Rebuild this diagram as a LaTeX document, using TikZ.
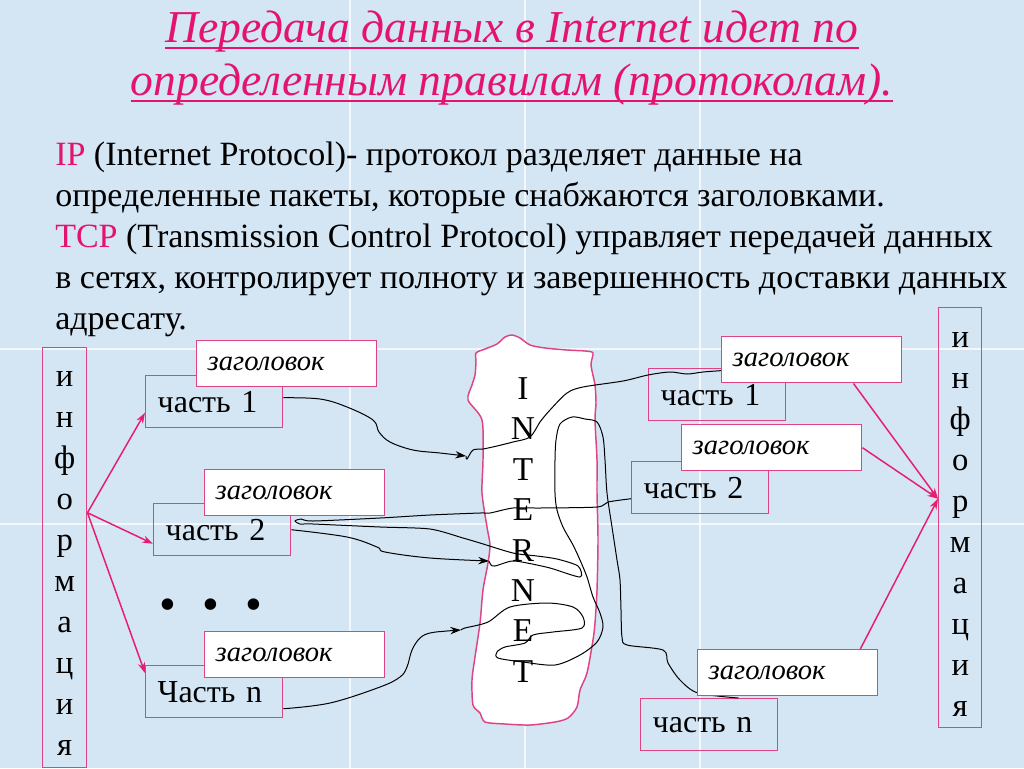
\documentclass[tikz,border=0pt]{standalone}
\usepackage{fontspec}
\setmainfont{Liberation Serif}
\usetikzlibrary{arrows.meta,calc}
\definecolor{bg}{RGB}{212,229,244}
\definecolor{pk}{RGB}{228,18,112}
\definecolor{bx}{RGB}{222,68,132}
\definecolor{ar}{RGB}{230,30,112}
\pgfdeclarelayer{back}
\pgfdeclarelayer{front}
\pgfsetlayers{back,main,front}
\begin{document}
\begin{tikzpicture}[x=0.75pt,y=-0.75pt,
  seam/.style={white,line width=0.8pt,opacity=0.75},
  titletext/.style={text=pk,inner sep=0pt,font=\fontsize{34.2}{40}\selectfont\itshape},
  body/.style={inner sep=0pt,anchor=base west,font=\fontsize{25.5}{30}\selectfont},
  part/.style={draw=bx,line width=1.1pt,minimum height=39pt,text width=84.75pt,
    inner xsep=9pt,inner ysep=0pt,align=left,anchor=north west,
    font=\fontsize{24}{28}\selectfont},
  hdr/.style={draw=bx,fill=white,line width=1.1pt,minimum height=34.5pt,text width=118.5pt,
    inner xsep=8.25pt,inner ysep=0pt,align=left,anchor=north west,
    font=\fontsize{21.4}{25}\selectfont\itshape},
  infobox/.style={draw=bx,line width=1.1pt,minimum height=315pt,inner sep=0pt,anchor=north west},
  infotext/.style={inner sep=0pt,align=center,font=\fontsize{24.5}{30.75}\selectfont},
  pkarrow/.style={draw=ar,line width=1.1pt,-{Stealth[length=8pt,width=5.5pt]}},
  blk/.style={draw=black,line width=0.75pt},
  blkarrow/.style={blk,-{Stealth[length=8pt,width=5.5pt]}}
]
\useasboundingbox (0,0) rectangle (1024,768);
\begin{pgfonlayer}{back}
\fill[bg] (0,0) rectangle (1024,768);
\foreach \sx in {350,525,700} \draw[seam] (\sx,0) -- (\sx,768);
\foreach \sy in {349,524} \draw[seam] (0,\sy) -- (1024,\sy);
% INTERNET cloud
\draw[draw=bx,fill=white,line width=1.1pt] plot[smooth cycle,tension=0.45] coordinates {
 (476,353) (485,349) (497,344) (505,337) (512,335) (520,338) (530,345) (545,348) (567,350)
 (585,351) (593,353) (591,365) (595,385) (596,403) (595,420) (597,460) (597,493) (598,540)
 (597,590) (595,623) (593,640) (587,673) (580,690) (577,707) (568,718) (555,722) (530,725)
 (505,724) (485,722) (480,713) (473,705) (472,680) (475,657) (480,623) (483,590) (488,563)
 (490,545) (487,527) (482,493) (483,460) (482,420) (468,400) (472,385) (475,375) (476,362)};
\end{pgfonlayer}

% title
\node[titletext,anchor=base] (t1) at (512,42) {Передача данных в Internet идет по};
\node[titletext,anchor=base] (t2) at (512,95) {определенным правилам (протоколам).};
\draw[pk,line width=1.5pt] ([yshift=-4.5pt]t1.base west) -- ([yshift=-4.5pt]t1.base east);
\draw[pk,line width=1.5pt] ([yshift=-4.5pt]t2.base west) -- ([yshift=-4.5pt]t2.base east);

% body text
\node[body] (b1) at (55,165) {\textcolor{pk}{IP} (Internet Protocol)- протокол разделяет данные на};
\node[body] (b2) at (55,206) {определенные пакеты, которые снабжаются заголовками.};
\node[body] (b3) at (55,247) {\textcolor{pk}{TCP} (Transmission Control Protocol) управляет передачей данных};
\node[body] (b4) at (55,288) {в сетях, контролирует полноту и завершенность доставки данных};
\node[body] (b5) at (55,329) {адресату.};

% INTERNET letters
\node[align=center,inner sep=0pt,font=\fontsize{25}{30.3}\selectfont] (inet) at (523,530)
  {I\\N\\T\\E\\R\\N\\E\\T};

% information columns
\node[infobox,minimum width=33pt] (infoL) at (42,347) {};
\node[infotext] (infoLt) at ([yshift=-4.5pt]infoL.center) {и\\н\\ф\\о\\р\\м\\а\\ц\\и\\я};
\node[infobox,minimum width=32.25pt] (infoR) at (938,307) {};
\node[infotext] (infoRt) at ([yshift=-5.25pt]infoR.center) {и\\н\\ф\\о\\р\\м\\а\\ц\\и\\я};

% parts
\node[part] (Lp1) at (145,375) {часть 1};
\node[part] (Lp2) at (153,503) {часть 2};
\node[part] (Lpn) at (145,665) {Часть n};
\node[part] (Rp1) at (648,368) {часть 1};
\node[part] (Rp2) at (631,461) {часть 2};
\node[part] (Rpn) at (640,698) {часть n};

% headers
\begin{pgfonlayer}{front}
\node[hdr] (Lh1) at (196,340) {заголовок};
\node[hdr] (Lh2) at (204,469) {заголовок};
\node[hdr] (Lhn) at (204,631) {заголовок};
\node[hdr] (Rh1) at (721,336) {заголовок};
\node[hdr] (Rh2) at (681,424) {заголовок};
\node[hdr] (Rhn) at (697,649) {заголовок};
\end{pgfonlayer}

% dots
\node[inner sep=0pt,font=\fontsize{36}{40}\selectfont] (dots) at (211,610) {•\hspace{19.6pt}•\hspace{19.6pt}•};

% pink arrows
\coordinate (srcL) at ([yshift=33.75pt]infoL.east);
\draw[pkarrow] (srcL) -- ([yshift=-8.25pt]Lp1.west);
\draw[pkarrow] (srcL) -- ([yshift=-10.5pt]Lp2.west);
\draw[pkarrow] (srcL) -- ([yshift=14pt]Lpn.west);
\coordinate (dstR) at ([yshift=14.25pt]infoR.west);
\draw[pkarrow] ($(Rh1.south west)!0.73!(Rh1.south east)$) -- (dstR);
\draw[pkarrow] (Rh2.east) -- (dstR);
\draw[pkarrow] ($(Rhn.north west)!0.9!(Rhn.north east)$) -- (dstR);

% black routes
\coordinate (j1) at (466,456);
\coordinate (j2) at (489,561);
\coordinate (j3) at (461,630);
\draw[blkarrow] plot[smooth,tension=0.6] coordinates {([yshift=3pt]Lp1.east) (320,399) (347,407) (373,420)
  (379,432) (390,442) (413,450) (440,453) (j1)};
\draw[blk] plot[smooth,tension=0.5] coordinates {(j1) (467,459) (473,450) (483,449) (497,446) (513,442)
  (530,437) (540,422) (550,410) (567,393) (583,387) (623,381) (648,375) (670,372) (687,374) (703,372)
  ($(Rh1.south west)!0.27!(Rh1.north west)$)};
\draw[blkarrow] plot[smooth,tension=0.6] coordinates {(Lp2.east) (347,537) (377,547) (385,552)
  (430,558) (j2)};
\draw[blk] plot[smooth,tension=0.45] coordinates {(j2) (491,565) (495,566) (512,561) (527,563) (550,568)
  (580,577) (578,566) (557,559) (537,556) (513,553) (480,543) (463,538) (430,529) (380,527) (313,524)
  (300,524) (295,521) (301,519) (313,521) (380,518) (430,515) (480,513) (490,513) (513,508) (540,508)
  (597,507) (608,502) ([yshift=-8.25pt]Rp2.west)};
\draw[blkarrow] plot[smooth,tension=0.6] coordinates {([yshift=-12.75pt]Lpn.east) (330,703) (380,687)
  (400,677) (407,667) (412,650) (420,638) (430,633) (447,631) (j3)};
\draw[blk] plot[smooth,tension=0.5] coordinates {(j3) (465,628) (488,622) (510,607) (547,603) (573,607)
  (583,617) (582,628) (553,632) (533,635) (525,643) (505,647) (497,652) (498,658) (523,662) (555,665)
  (580,655) (597,642) (603,627) (600,613) (593,597) (587,577) (580,560) (573,545) (563,527) (557,510)
  (555,493) (555,460) (556,440) (560,424) (572,417) (585,419) (597,422) (603,437) (605,460) (607,493)
  (612,527) (617,560) (620,580) (621,610) (622,637) (627,645) (663,650) (668,663) (680,680) (698,693)
  ($(Rpn.north west)!0.71!(Rpn.north east)$)};
\end{tikzpicture}
\end{document}
